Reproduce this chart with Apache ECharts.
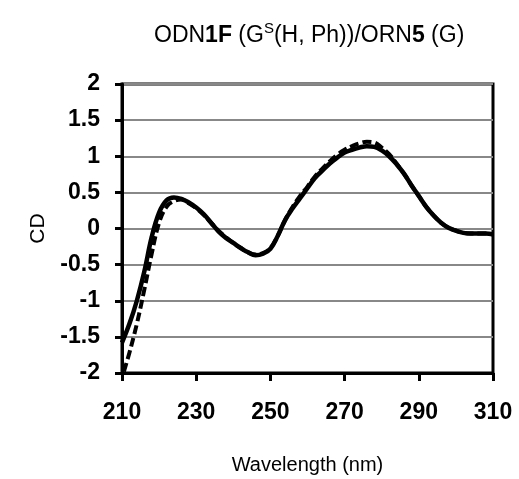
<!DOCTYPE html>
<html><head><meta charset="utf-8">
<script src="https://cdn.jsdelivr.net/npm/echarts@6/dist/echarts.min.js"></script>
<style>html,body{margin:0;padding:0;background:#fff}#c{width:519px;height:479px}</style>
</head><body><div id="c"></div>
<script>
const xTicks = [210, 230, 250, 270, 290, 310];
const yTicks = [-2, -1.5, -1, -0.5, 0, 0.5, 1, 1.5, 2];
const solidWl = [210,212,214,216,218,220,222,224,226,228,230,232,234,236,238,240,242,244,246,248,250,252,254,256,258,260,262,264,266,268,270,272,274,276,278,280,282,284,286,288,290,292,294,296,298,300,302,304,306,308,310];
const solidCD = [-1.58,-1.32,-1.0,-0.6,-0.12,0.22,0.39,0.43,0.41,0.36,0.29,0.2,0.08,-0.04,-0.13,-0.2,-0.27,-0.33,-0.37,-0.35,-0.28,-0.1,0.12,0.28,0.42,0.56,0.7,0.8,0.9,0.98,1.05,1.09,1.12,1.14,1.13,1.08,1.0,0.89,0.76,0.6,0.45,0.3,0.18,0.08,0.01,-0.03,-0.06,-0.07,-0.07,-0.07,-0.08];
const dashWl = [210.5,212,214,216,218,220,222,224,226,228,230,232,234,236,238,240,242,244,246,248,250,252,254,256,258,260,262,264,266,268,270,272,274,276,278,280,282,284,286,288,290,292,294,296,298,300,302,304,306,308,310];
const dashCD = [-1.98,-1.72,-1.32,-0.85,-0.35,0.08,0.3,0.38,0.4,0.35,0.28,0.19,0.08,-0.03,-0.12,-0.2,-0.27,-0.33,-0.36,-0.34,-0.27,-0.1,0.12,0.3,0.45,0.58,0.72,0.83,0.93,1.02,1.09,1.14,1.18,1.2,1.19,1.12,1.03,0.9,0.76,0.6,0.45,0.3,0.18,0.08,0.01,-0.03,-0.06,-0.07,-0.07,-0.07,-0.08];

const solidData = solidWl.map((w,i)=>[w, solidCD[i]]);
const dashData = dashWl.map((w,i)=>[w, dashCD[i]]);

const chart = echarts.init(document.getElementById('c'), null, {renderer:'canvas'});
const FONT = 'Liberation Sans, Arial, sans-serif';
chart.setOption({
  animation:false,
  backgroundColor:'#fff',
  title:{
    text:'{n|ODN}{b|1F}{n| (G}{s|S}{n|(H, Ph))/ORN}{b|5}{n| (G)}',
    left:149, top:12,
    textStyle:{
      fontWeight:'normal',
      rich:{
        n:{fontFamily:FONT,fontSize:23,fontWeight:'normal',color:'#000',verticalAlign:'bottom',lineHeight:30},
        b:{fontFamily:FONT,fontSize:23,fontWeight:'bold',color:'#000',verticalAlign:'bottom',lineHeight:30},
        s:{fontFamily:FONT,fontSize:15,fontWeight:'normal',color:'#000',verticalAlign:'top',lineHeight:30,padding:[4,0,0,0]}
      }
    }
  },
  grid:{left:122,top:84,right:26,bottom:106,show:true,borderColor:'#000',borderWidth:3,backgroundColor:'transparent',containLabel:false,outerBoundsMode:'none'},
  xAxis:{
    type:'value',min:210,max:310,interval:20,
    name:'Wavelength (nm)',nameLocation:'middle',nameGap:82,
    nameTextStyle:{fontFamily:FONT,fontSize:20,color:'#000'},
    axisLine:{show:true,onZero:false,lineStyle:{color:'#000',width:3}},
    axisTick:{show:true,length:8,lineStyle:{color:'#000',width:3}},
    axisLabel:{fontFamily:FONT,fontSize:23,fontWeight:'bold',color:'#000',margin:28},
    splitLine:{show:false}
  },
  yAxis:{
    type:'value',min:-2,max:2,interval:0.5,
    name:'CD',nameLocation:'middle',nameGap:73,nameRotate:90,
    nameTextStyle:{fontFamily:FONT,fontSize:21,color:'#000'},
    axisLine:{show:true,onZero:false,lineStyle:{color:'#000',width:3}},
    axisTick:{show:true,length:7,lineStyle:{color:'#000',width:3}},
    axisLabel:{fontFamily:FONT,fontSize:23,fontWeight:'bold',color:'#000',margin:22},
    splitLine:{show:true,lineStyle:{color:'#888',width:2}}
  },
  series:[
    {type:'line',data:dashData,smooth:0.4,showSymbol:false,lineStyle:{color:'#000',width:4,type:[9,4]}},
    {type:'line',data:solidData,smooth:0.4,showSymbol:false,lineStyle:{color:'#000',width:4.5}}
  ]
});
</script></body></html>
